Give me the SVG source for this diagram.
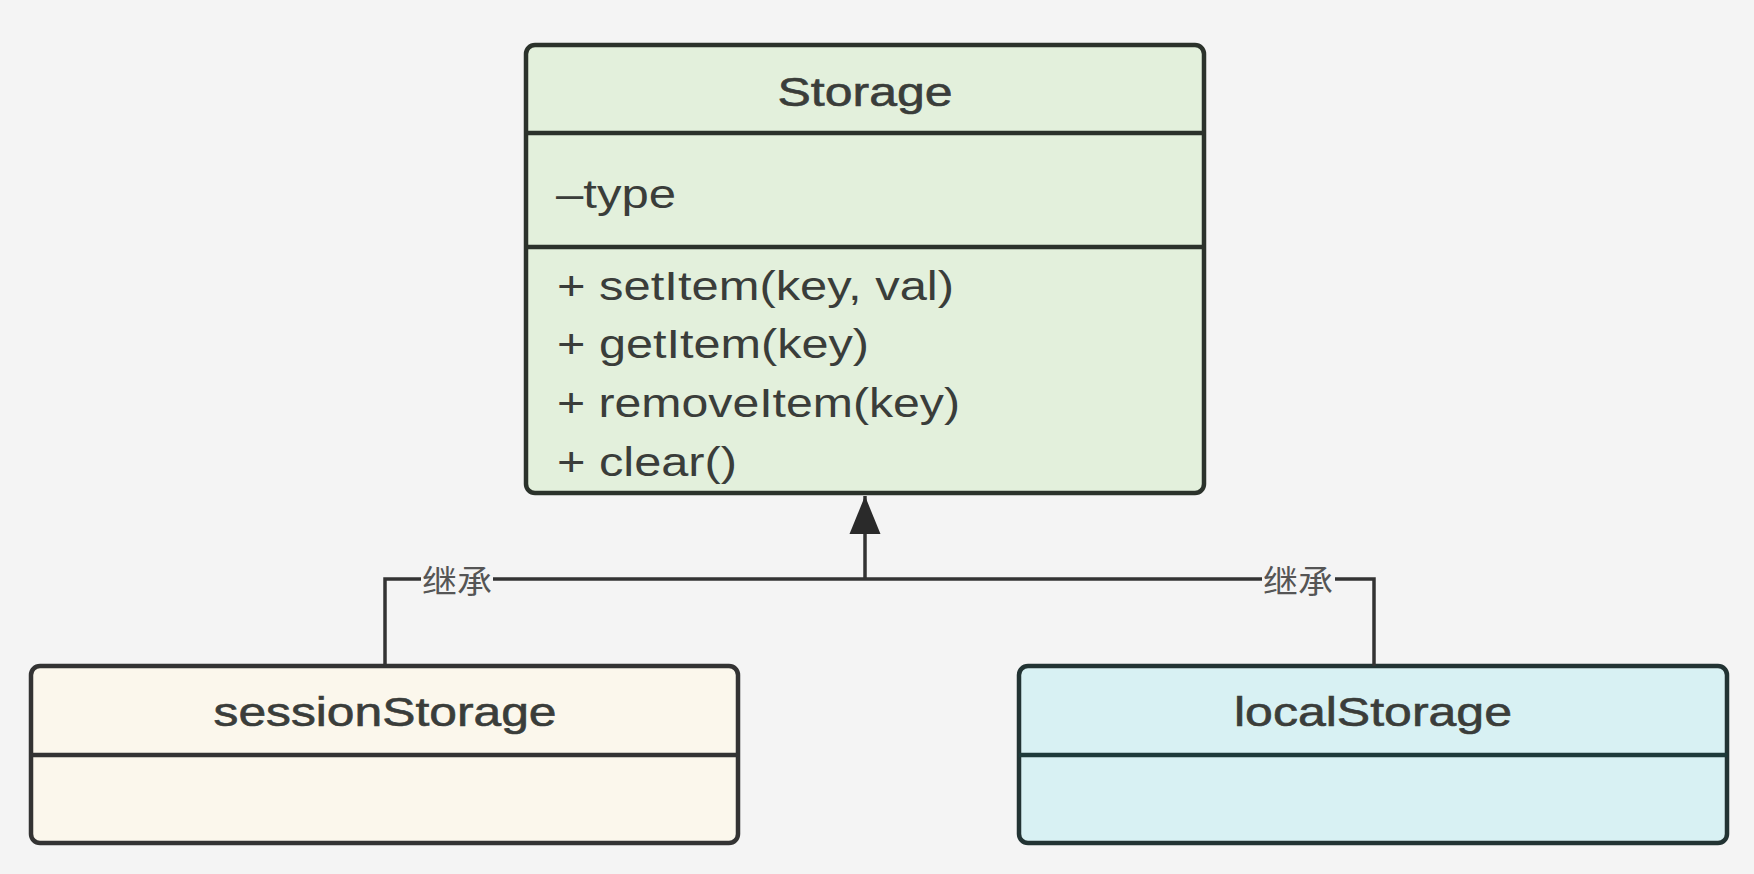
<svg xmlns="http://www.w3.org/2000/svg" width="1754" height="874" viewBox="0 0 1754 874">
<defs>
<style>
.box{stroke-width:4.5}
.div{stroke-width:4.5;fill:none}
.t{font-family:"Liberation Sans",Arial,sans-serif;font-size:40px;fill:#3a3d3a}
.mid{text-anchor:middle}
.ttl{stroke:#3a3d3a;stroke-width:0.6}
.lbl{font-family:"Liberation Sans","Noto Sans CJK SC",sans-serif;font-size:32px;fill:#555;text-anchor:middle}
.conn{stroke:#333;stroke-width:3.5;fill:none}
</style>
<marker id="tri" markerUnits="userSpaceOnUse" markerWidth="40" markerHeight="32" refX="38" refY="16" viewBox="0 0 40 32" orient="auto">
<path d="M38 16 L0 0.5 L0 31.5 Z" fill="#2a2a2a"/>
</marker>
</defs>
<rect width="1754" height="874" fill="#f4f4f4"/>
<g id="storage">
<rect class="box" x="526" y="45" width="678" height="448" rx="9" fill="#e3f0dc" stroke="#2b322b"/>
<line class="div" x1="526" y1="133" x2="1204" y2="133" stroke="#2b322b"/>
<line class="div" x1="526" y1="247" x2="1204" y2="247" stroke="#2b322b"/>
<text class="t mid ttl" x="865" y="106" textLength="175" lengthAdjust="spacingAndGlyphs">Storage</text>
<text class="t" x="556" y="208" textLength="120" lengthAdjust="spacingAndGlyphs">–type</text>
<text class="t" x="557" y="300" textLength="397" lengthAdjust="spacingAndGlyphs">+ setItem(key, val)</text>
<text class="t" x="557" y="358" textLength="312" lengthAdjust="spacingAndGlyphs">+ getItem(key)</text>
<text class="t" x="557" y="417" textLength="403" lengthAdjust="spacingAndGlyphs">+ removeItem(key)</text>
<text class="t" x="557" y="476" textLength="180" lengthAdjust="spacingAndGlyphs">+ clear()</text>
</g>
<g id="sessionStorage">
<rect class="box" x="31" y="666" width="707" height="177" rx="9" fill="#fbf7ec" stroke="#333"/>
<line class="div" x1="31" y1="755" x2="738" y2="755" stroke="#333"/>
<text class="t mid ttl" x="385" y="726" textLength="343" lengthAdjust="spacingAndGlyphs">sessionStorage</text>
</g>
<g id="localStorage">
<rect class="box" x="1019" y="666" width="708" height="177" rx="9" fill="#d8f1f3" stroke="#223333"/>
<line class="div" x1="1019" y1="755" x2="1727" y2="755" stroke="#1e3a3a"/>
<text class="t mid ttl" x="1373" y="726" textLength="278" lengthAdjust="spacingAndGlyphs">localStorage</text>
</g>
<g id="connectors">
<path class="conn" d="M865 579 L865 496" marker-end="url(#tri)"/>
<path class="conn" d="M385 666 L385 579 L1374 579 L1374 666"/>
<rect x="421" y="562" width="72" height="36" fill="#f4f4f4"/>
<text class="lbl" x="457" y="593" textLength="70" lengthAdjust="spacingAndGlyphs">继承</text>
<rect x="1262" y="562" width="73" height="36" fill="#f4f4f4"/>
<text class="lbl" x="1298" y="593" textLength="70" lengthAdjust="spacingAndGlyphs">继承</text>
</g>
</svg>
